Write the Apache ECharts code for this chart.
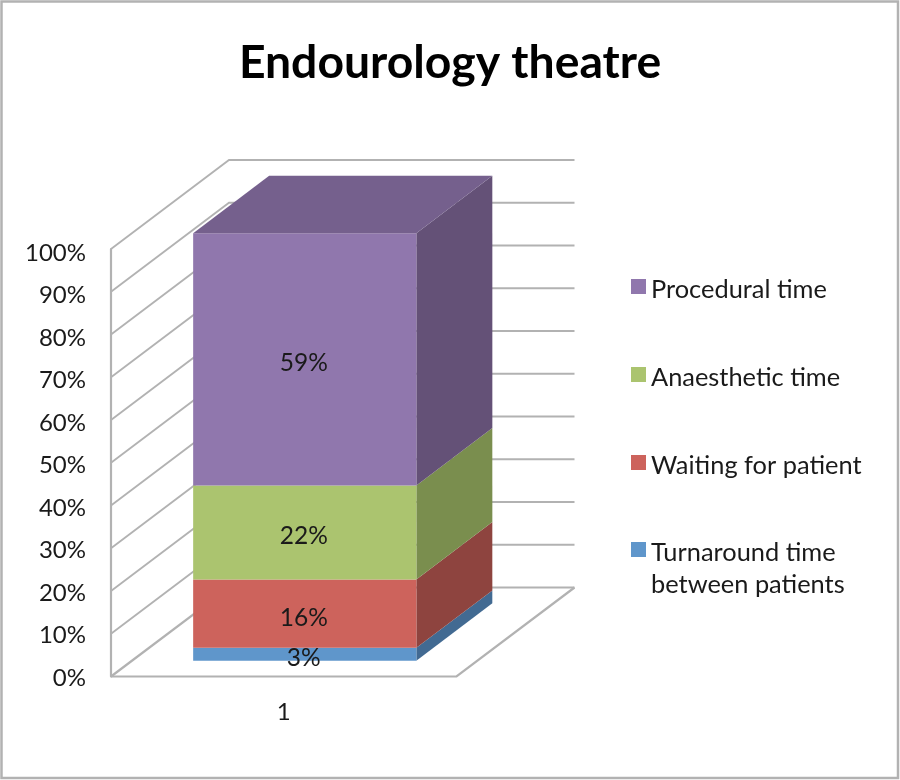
<!DOCTYPE html>
<html><head><meta charset="utf-8">
<style>html,body{margin:0;padding:0;background:#fff}#c{width:900px;height:780px}</style>
<script src="https://cdn.jsdelivr.net/npm/echarts@6/dist/echarts.min.js"></script>
</head><body><div id="c"></div>
<script>
const categories = ['1'];
const seriesNames = ['Turnaround time between patients','Waiting for patient','Anaesthetic time','Procedural time'];
const seriesValues = [3,16,22,59];
const frontColors = ['#5F96CB','#CD635C','#ABC46F','#9077AD'];
const sideColors = ['#426A92','#8E443F','#7A8E4E','#645177'];
const topColors = ['#4F7AA6','#A34E49','#8CA25A','#75608D'];
const gridTicks = [0,10,20,30,40,50,60,70,80,90,100];
const FONT = 'Lato';
const WALL = [118,-89];       // depth of the box, px
const BAR_START = 0.178, BAR_DEPTH = 0.644, BAR_W = 0.646;
const GRID = '#B2B2B2';

let cum = 0;
const stacks = seriesValues.map(v => { const s=[cum,cum+v]; cum+=v; return s; });

function wallItem(params, api){
  const t = api.value(0);
  const w = api.size([1,0])[0];
  const p = api.coord([0,t]);
  const x0 = p[0]-w/2, y = p[1];
  const kids = [];
  const style = {stroke:GRID, lineWidth:t===0?2.2:1.8, fill:null};
  kids.push({type:'polyline',shape:{points:[[x0,y],[x0+WALL[0],y+WALL[1]],[x0+w+WALL[0],y+WALL[1]]]},style});
  if(t===0){
    kids.push({type:'polyline',shape:{points:[[x0,y],[x0+w,y],[x0+w+WALL[0],y+WALL[1]]]},style});
  }
  return {type:'group',children:kids,silent:true};
}
function barItem(idx){
  return function(params, api){
    const a = api.coord([0,api.value(1)]), b = api.coord([0,api.value(2)]);
    const w = api.size([1,0])[0];
    const cx = a[0]+WALL[0]*BAR_START;
    const dy = WALL[1]*BAR_START;
    const L = cx-w*BAR_W/2, R = cx+w*BAR_W/2;
    const y0 = a[1]+dy, y1 = b[1]+dy;
    const dx2 = WALL[0]*BAR_DEPTH, dy2 = WALL[1]*BAR_DEPTH;
    const kids = [
      {type:'polygon',shape:{points:[[R,y0],[R+dx2,y0+dy2],[R+dx2,y1+dy2],[R,y1]]},style:{fill:sideColors[idx]}},
      {type:'rect',shape:{x:L,y:y1,width:R-L,height:y0-y1},style:{fill:frontColors[idx]}}
    ];
    if(idx===seriesValues.length-1){
      kids.push({type:'polygon',shape:{points:[[L,y1],[L+dx2,y1+dy2],[R+dx2,y1+dy2],[R,y1]]},style:{fill:topColors[idx]}});
    }
    return {type:'group',children:kids};
  };
}
function labelItem(params, api){
  const a = api.coord([0,api.value(1)]), b = api.coord([0,api.value(2)]);
  const dy = WALL[1]*BAR_START;
  return {type:'text',style:{text:api.value(3)+'%',x:a[0]+WALL[0]*BAR_START-1,y:(a[1]+b[1])/2+dy+4,
    align:'center',verticalAlign:'middle',font:'24.5px '+FONT,fill:'#1a1a1a'},z2:10};
}
const SQ = 'M0 0h15v15h-15z M0 21h0.01z';
const SQ2 = 'M0 0h15v15h-15z M0 53h0.01z';
const series = [
  {type:'custom',name:'walls',renderItem:wallItem,data:gridTicks.map(t=>[t]),encode:{y:0},silent:true,z:1,clip:false}
];
seriesNames.forEach((n,i)=>{
  series.push({type:'custom',name:n,renderItem:barItem(i),data:[[0,stacks[i][0],stacks[i][1]]],encode:{x:0,y:[1,2]},z:2,clip:false,itemStyle:{color:frontColors[i]}});
});
series.push({type:'custom',name:'labels',renderItem:labelItem,data:seriesValues.map((v,i)=>[0,stacks[i][0],stacks[i][1],v]),encode:{x:0,y:[1,2]},z:5,clip:false,silent:true});

const legendText = {fontFamily:FONT,fontSize:25.4,color:'#1a1a1a',lineHeight:32};
const chart = echarts.init(document.getElementById('c'),null,{renderer:'canvas'});
chart.setOption({
  animation:false,
  backgroundColor:'#fff',
  title:{text:'Endourology theatre',left:'center',top:35,textStyle:{fontFamily:FONT,fontWeight:'bold',fontSize:46.3,color:'#000'}},
  grid:[
    {left:111,top:249,width:345.5,height:427.5,containLabel:false},
    {left:111,top:253,width:345.5,height:425,containLabel:false}
  ],
  xAxis:[
    {type:'category',data:categories,axisLine:{show:false},axisTick:{show:false},splitLine:{show:false},
      axisLabel:{fontFamily:FONT,fontSize:24,color:'#1a1a1a',margin:24}},
    {type:'category',gridIndex:1,data:categories,show:false}
  ],
  yAxis:[
    {type:'value',min:0,max:100,interval:10,axisLine:{show:true,lineStyle:{color:GRID,width:2.2}},axisTick:{show:false},splitLine:{show:false},axisLabel:{show:false}},
    {type:'value',gridIndex:1,min:0,max:100,interval:10,axisLine:{show:false},axisTick:{show:false},splitLine:{show:false},
      axisLabel:{fontFamily:FONT,fontSize:24,color:'#1a1a1a',margin:25,formatter:'{value}%'}}
  ],
  legend:[
    {orient:'vertical',left:631,top:273.5,padding:0,itemWidth:15,itemHeight:21,itemGap:56,icon:'path://'+SQ,selectedMode:false,
      data:[seriesNames[3],seriesNames[2],seriesNames[1]],textStyle:legendText},
    {orient:'vertical',left:631,top:536.5,padding:0,itemWidth:15,itemHeight:53,icon:'path://'+SQ2,selectedMode:false,
      data:[seriesNames[0]],textStyle:legendText,formatter:()=>'Turnaround time\nbetween patients'}
  ],
  graphic:[{type:'rect',shape:{x:1.5,y:1.5,width:896.5,height:776.5},style:{fill:null,stroke:'#B2B2B2',lineWidth:2.5},silent:true}],
  series
});
</script></body></html>
